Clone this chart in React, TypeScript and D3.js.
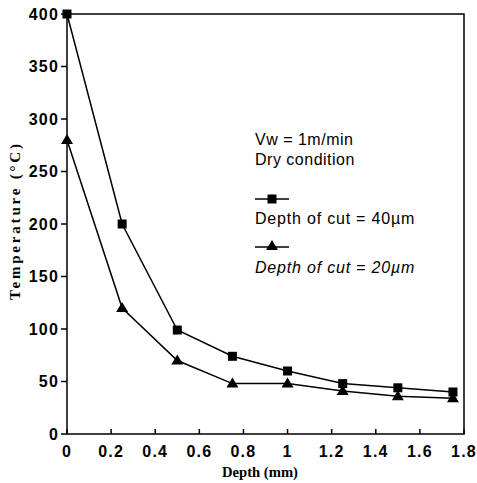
import React from "react";
import * as d3 from "d3";

const depths = [0, 0.25, 0.5, 0.75, 1, 1.25, 1.5, 1.75];
const temp40 = [400, 200, 99, 74, 60, 48, 44, 40];
const temp20 = [280, 120, 70, 48, 48, 41, 36, 34];
const xTicks = [0, 0.2, 0.4, 0.6, 0.8, 1, 1.2, 1.4, 1.6, 1.8];
const yTicks = [0, 50, 100, 150, 200, 250, 300, 350, 400];
const legendHeader = ["Vw = 1m/min", "Dry condition"];
const seriesNames = ["Depth of cut = 40µm", "Depth of cut = 20µm"];

const W = 477;
const H = 483;
const L = 67, R = 464, T = 14, B = 434;

export default function App() {
  const x = d3.scaleLinear().domain([0, 1.8]).range([L, R]);
  const y = d3.scaleLinear().domain([0, 400]).range([B, T]);
  const line = d3
    .line<number>()
    .x((_, i) => x(depths[i]))
    .y((d) => y(d));

  const sq = 9;
  const triPath = (cx: number, cy: number) =>
    `M${cx},${cy - 6}L${cx + 6},${cy + 4}L${cx - 6},${cy + 4}Z`;

  const sans = "'Liberation Sans', Arial, sans-serif";
  const serif = "'Liberation Serif', 'Times New Roman', serif";

  return (
    <svg
      width={W}
      height={H}
      style={{ position: "absolute", left: 0, top: 0, background: "#fff" }}
    >
      {/* frame */}
      <rect x={L} y={T} width={R - L} height={B - T} fill="none" stroke="#000" strokeWidth={1.5} />
      {/* y ticks */}
      {yTicks.map((t) => (
        <g key={"y" + t}>
          <line x1={L - 6} x2={L} y1={y(t)} y2={y(t)} stroke="#000" strokeWidth={1.5} />
          <text
            x={L - 8}
            y={y(t)}
            dy="0.36em"
            textAnchor="end"
            fontFamily={sans}
            fontSize={16}
            fontWeight="bold"
            letterSpacing={1.2}
          >
            {t}
          </text>
        </g>
      ))}
      {/* x ticks */}
      {xTicks.map((t) => (
        <g key={"x" + t}>
          <line x1={x(t)} x2={x(t)} y1={B} y2={B - 5} stroke="#000" strokeWidth={1.5} />
          <text
            x={x(t)}
            y={457}
            textAnchor="middle"
            fontFamily={sans}
            fontSize={16}
            fontWeight="bold"
            letterSpacing={1.2}
          >
            {t}
          </text>
        </g>
      ))}
      {/* axis titles */}
      <text
        x={260}
        y={477}
        textAnchor="middle"
        fontFamily={serif}
        fontSize={15}
        fontWeight="bold"
        textLength={76}
        lengthAdjust="spacingAndGlyphs"
      >
        Depth (mm)
      </text>
      <text
        transform={`translate(20,222) rotate(-90)`}
        textAnchor="middle"
        fontFamily={serif}
        fontSize={15}
        fontWeight="bold"
        textLength={156}
        lengthAdjust="spacing"
      >
        Temperature (°C)
      </text>
      {/* series lines */}
      <path d={line(temp40) || ""} fill="none" stroke="#000" strokeWidth={1.5} />
      <path d={line(temp20) || ""} fill="none" stroke="#000" strokeWidth={1.5} />
      {temp40.map((v, i) => (
        <rect
          key={"s" + i}
          x={x(depths[i]) - sq / 2}
          y={y(v) - sq / 2}
          width={sq}
          height={sq}
          fill="#000"
        />
      ))}
      {temp20.map((v, i) => (
        <path key={"t" + i} d={triPath(x(depths[i]), y(v))} fill="#000" />
      ))}
      {/* legend */}
      <g fontFamily={sans} fontSize={16} fill="#000">
        <text x={255} y={145} letterSpacing={0.5}>{legendHeader[0]}</text>
        <text x={255} y={165} letterSpacing={0.5}>{legendHeader[1]}</text>
        <line x1={255} x2={289} y1={199} y2={199} stroke="#000" strokeWidth={1.5} />
        <rect x={272 - sq / 2} y={199 - sq / 2} width={sq} height={sq} fill="#000" />
        <text x={255} y={224} letterSpacing={0.8}>{seriesNames[0]}</text>
        <line x1={255} x2={289} y1={247} y2={247} stroke="#000" strokeWidth={1.5} />
        <path d={triPath(272, 246)} fill="#000" />
        <text x={255} y={273} fontStyle="italic" letterSpacing={0.8}>{seriesNames[1]}</text>
      </g>
    </svg>
  );
}
